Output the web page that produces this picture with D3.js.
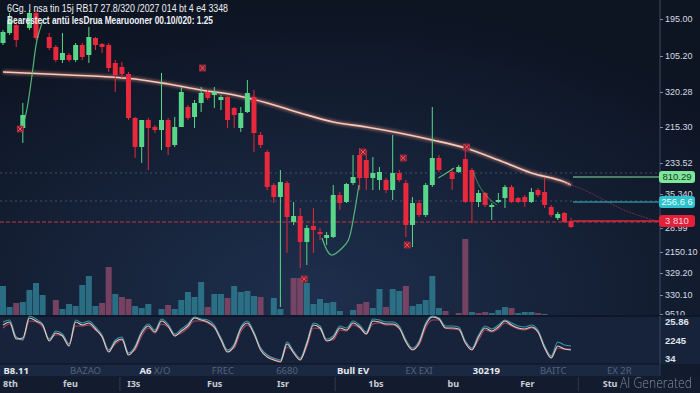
<!DOCTYPE html>
<html>
<head>
<meta charset="utf-8">
<script src="https://cdn.jsdelivr.net/npm/d3@7"></script>
<style>
  html, body { margin: 0; padding: 0; background: #0f1727; overflow: hidden; }
  svg { display: block; }
</style>
</head>
<body>
<script>
// ---- Data (prices on a 0-360 scale, one slot per session, null = no candle) ----
const open = [317,327,335,232,332,347,null,323,313,300,305,300,315,305,322,316,315,297,293,286,
  242,213,240,233,230,240,215,233,253,243,257,268,265,260,263,252,232,248,263,225,
  208,175,163,177,138,144,118,134,128,122,123,165,158,177,205,200,182,180,180,170,
  187,177,135,157,145,175,202,null,188,188,201,190,158,167,153,158,162,173,162,163,
  158,170,168,153,142,147,139];
const high = [330,347,338,257,350,350,null,327,315,327,307,317,317,333,323,317,317,300,298,288,
  243,240,242,235,287,242,243,273,255,260,273,270,273,265,264,253,253,280,270,228,
  210,177,190,179,158,152,135,152,132,128,175,168,177,205,212,210,203,193,182,225,
  190,180,163,160,177,253,205,null,192,195,215,192,170,168,157,167,175,175,163,165,
  172,172,182,155,148,148,142];
const low = [315,325,313,217,330,320,null,310,298,297,298,298,300,297,310,307,288,268,282,240,
  202,197,190,227,210,205,213,233,240,232,248,260,252,250,232,232,228,247,208,212,
  170,157,53,107,135,92,95,107,120,115,122,150,157,175,170,170,170,170,167,160,
  178,123,113,143,143,173,188,null,170,187,157,137,153,153,140,157,152,157,157,153,
  157,163,152,143,140,137,132];
const close = [328,340,320,245,347,322,null,312,300,307,300,315,303,323,315,313,292,285,286,242,
  213,240,232,230,240,213,233,268,242,257,267,262,268,263,240,245,247,267,227,215,
  173,163,178,143,144,118,132,130,126,125,165,157,176,183,182,182,187,188,170,187,
  180,135,157,145,175,202,190,null,181,193,158,158,167,155,155,160,173,158,158,158,
  168,165,155,145,146,138,133];

// volume per session and its side (1 = buying, -1 = selling)
const volume = [29,8,12,13,25,32,20,0,15,6,11,9,30,39,9,12,48,21,18,16,
  9,7,11,0,6,10,6,15,23,18,33,8,21,21,17,29,23,24,19,18,
  0,17,6,0,37,37,32,11,16,12,13,4,0,5,11,13,7,26,8,26,
  24,29,9,11,15,39,7,4,0,2,76,3,2,3,2,5,8,7,2,3,
  3,2,1,0,0,0,0];
const volSide = [1,1,-1,1,1,1,1,1,-1,1,1,1,1,1,1,-1,-1,1,-1,-1,
  1,1,1,1,1,-1,1,1,1,1,1,-1,1,1,-1,1,1,1,1,-1,
  1,1,1,1,-1,-1,1,1,1,1,1,1,1,1,-1,-1,1,1,-1,1,
  1,-1,1,1,1,1,1,-1,1,-1,-1,1,-1,-1,1,1,1,-1,1,1,
  1,-1,1,1,1,1,1];

// moving average
const maIdx = [0,5,10,15,20,25,30,35,40,45,50,55,60,65,70,75,80,85,86];
const maVal = [288,286.5,285,283.5,281,276,270,265,257,247,238,233,227,220,212,200,187,178,175];
// faint projected average
const projIdx = [84,88,91,94,97,99.5];
const projVal = [179,170,160,150,143,138];

// green trailing curves
const curveA = [[2.9,232],[3.6,250],[4.4,285],[5.15,320],[6.06,340]];
const curveB = [[48.3,122],[49.7,105],[51.5,113],[52.3,120],[53.2,147],[53.6,163],[53.9,175]];
const curveC = [[65.9,182],[67.4,188],[68.3,192]];
const curveD = [[71.2,188],[72.3,172],[73.8,160],[74.8,155]];

// signal markers
const markIdx = [2.6,30.2,45.6,60.6,61.2,54.5,70.2];
const markVal = [231,292,81,202,115,208,213];

// oscillator (three lines)
const oscMain = [39,42,25,26,46,43,39,23,31,28,18,42,39,41,35,27,12,22,25,9,
  16,31,38,32,43,38,28,33,38,46,44,42,37,24,12,18,35,41,30,14,
  7,4,2,20,11,4,20,39,36,23,26,36,34,41,37,30,43,42,40,40,
  36,22,14,21,39,47,45,36,36,35,21,14,27,36,33,37,43,39,36,35,
  37,32,16,6,18,15,14];
const oscFast = [42,44,27,24,48,45,40,25,33,30,20,44,41,43,37,29,14,24,27,11,
  18,33,40,34,45,40,30,35,40,47,45,44,39,26,14,20,37,43,32,16,
  9,6,4,22,13,6,22,41,38,25,28,38,36,43,39,32,45,44,42,42,
  38,24,16,23,41,48,46,38,38,37,23,16,29,38,35,39,44,41,38,37,
  39,34,18,8,22,19,18];
const oscSlow = [36,40,27,24,43,42,37,25,29,29,20,38,38,39,34,28,14,20,24,11,
  14,28,36,31,40,37,29,31,36,43,43,41,36,26,14,16,32,39,31,16,
  9,5,3,17,12,5,17,36,35,24,24,34,33,39,36,30,40,41,39,39,
  35,24,15,19,36,44,44,36,35,34,23,15,24,34,32,35,41,38,35,34,
  36,32,18,7,16,15,15];

// price axis ticks
const priceTicks = [341,304,268,233,197,166,132,108,87,65,46];
const priceLabels = ["195.00","105.20","320.28","215.30","233.52","35.340","28.99","2150.10","329.20","330.10","9510"];
const gridLevels = [187,159];
const supportLevel = 138;
const tagLevels = [183,158,139];
const tagLabels = ["810.29","256.6 6","3 810"];
const oscTicks = [42.3,23.3,5.7];
const oscLabels = ["25.86","2245","34"];

// time axis labels
const topIdx = [2,12.5,23,33.3,43,53,63,73.2,83.3,93.3];
const topLabels = [["B8.11",""],["","BAZAO"],["A6"," X/O"],["","FREC"],["","6680"],["Bull EV",""],["","EX EXI"],["30219",""],["","BAITC"],["","EX 2R"]];
const botIdx = [0,9.1,18.8,30.9,41.5,55.3,67.3,78.3,90.8];
const botLabels = ["8th","feu","I3s","Fus","Isr","1bs","bu","Fer","Stu"];
const sepIdx = [17.7,50.3,87.1];

const titleLines = ["6Gg. I nsa tin 15j RB17 27.8/320 /2027 014 bt  4 e4 3348",
  "Bearestect antü lesDrua Mearuooner  00.10/020: 1.25"];

// ---- Layout ----
const width = 700, height = 393;
const axisX = 660;
const font = "'Noto Sans', 'DejaVu Sans', sans-serif";
const axisFont = "'Liberation Sans', Arial, sans-serif";

const svg = d3.select("body").append("svg")
  .attr("width", width).attr("height", height);

const defs = svg.append("defs");
const bg = defs.append("radialGradient").attr("id", "bg")
  .attr("cx", "45%").attr("cy", "75%").attr("r", "75%");
bg.append("stop").attr("offset", "0%").attr("stop-color", "#1e2f4d");
bg.append("stop").attr("offset", "100%").attr("stop-color", "#0d1422");
defs.append("filter").attr("id", "glow")
  .append("feGaussianBlur").attr("stdDeviation", 1.5);

svg.append("rect").attr("width", width).attr("height", height).attr("fill", "url(#bg)");

// Scales
const xScale = d3.scaleLinear().domain([0, 86]).range([3, 571]);
const yScale = d3.scaleLinear().domain([0, 360]).range([360, 0]);
const volScale = d3.scaleLinear().domain([0, 100]).range([315, 215]);
const oscScale = d3.scaleLinear().domain([0, 48]).range([364, 316]);

// Grid and support lines
svg.selectAll(".grid").data(gridLevels).enter().append("line")
  .attr("x1", 0).attr("x2", axisX)
  .attr("y1", d => yScale(d)).attr("y2", d => yScale(d))
  .attr("stroke", "#4d5b7a").attr("stroke-dasharray", "2,3").attr("stroke-opacity", 0.8);

svg.append("line")
  .attr("x1", 0).attr("x2", axisX)
  .attr("y1", yScale(supportLevel)).attr("y2", yScale(supportLevel))
  .attr("stroke", "#8a2f3e").attr("stroke-width", 1.5).attr("stroke-dasharray", "4,2");

// Volume bars
const step = xScale(1) - xScale(0);
svg.append("g").selectAll("rect").data(volume).enter().append("rect")
  .attr("x", (d, i) => xScale(i) - step / 2 + 0.3)
  .attr("width", step - 0.6)
  .attr("y", d => volScale(d))
  .attr("height", d => volScale(0) - volScale(d))
  .attr("fill", (d, i) => volSide[i] > 0 ? "#2f7b90" : "#864868")
  .attr("opacity", 0.85);

// Moving average with glow
const maLine = d3.line().x(d => xScale(d[0])).y(d => yScale(d[1])).curve(d3.curveMonotoneX);
const maData = maIdx.map((d, i) => [d, maVal[i]]);
svg.append("path").datum(maData).attr("d", maLine)
  .attr("fill", "none").attr("stroke", "#ff9d8c").attr("stroke-width", 4)
  .attr("opacity", 0.45).attr("filter", "url(#glow)");
svg.append("path").datum(maData).attr("d", maLine)
  .attr("fill", "none").attr("stroke", "#f8cbb8").attr("stroke-width", 1.6);

svg.append("path").datum(projIdx.map((d, i) => [d, projVal[i]])).attr("d", maLine)
  .attr("fill", "none").attr("stroke", "#9a3444").attr("stroke-width", 1)
  .attr("stroke-dasharray", "2,1").attr("opacity", 0.7);

// Candles
const candles = d3.range(open.length).filter(i => open[i] !== null)
  .map(i => ({ i, o: open[i], h: high[i], l: low[i], c: close[i] }));
const up = "#58d68a", down = "#e8283c";

svg.append("g").selectAll("line").data(candles).enter().append("line")
  .attr("x1", d => xScale(d.i)).attr("x2", d => xScale(d.i))
  .attr("y1", d => yScale(d.h)).attr("y2", d => yScale(d.l))
  .attr("stroke", d => d.c >= d.o ? up : down).attr("stroke-width", 1);

svg.append("g").selectAll("rect").data(candles).enter().append("rect")
  .attr("x", d => xScale(d.i) - 2.5).attr("width", 5)
  .attr("y", d => yScale(Math.max(d.o, d.c)))
  .attr("height", d => Math.max(1.5, Math.abs(yScale(d.o) - yScale(d.c))))
  .attr("fill", d => d.c >= d.o ? up : down);

// Trailing curves
const curveLine = d3.line().x(d => xScale(d[0])).y(d => yScale(d[1])).curve(d3.curveCatmullRom);
[curveA, curveB, curveC, curveD].forEach((c, k) => {
  svg.append("path").datum(c).attr("d", curveLine)
    .attr("fill", "none").attr("stroke", "#5cc77e")
    .attr("stroke-width", 1.2).attr("opacity", k === 3 ? 0.45 : 0.9);
});

// Signal markers
const marks = svg.append("g").selectAll("g").data(markIdx).enter().append("g")
  .attr("transform", (d, i) => `translate(${xScale(d)},${yScale(markVal[i])})`);
marks.append("rect").attr("x", -3).attr("y", -3).attr("width", 6).attr("height", 6)
  .attr("fill", "#7a1f2c").attr("stroke", "#d8334a").attr("stroke-width", 0.6);
marks.append("path").attr("d", "M-2.2,-2.2L2.2,2.2M2.2,-2.2L-2.2,2.2")
  .attr("stroke", "#ff5a6a").attr("stroke-width", 1);

// Price level lines toward the tags
const tagColors = ["#86e39c", "#34bcc6", "#d8283c"];
svg.selectAll(".lvl").data(tagLevels).enter().append("line")
  .attr("x1", xScale.range()[1] + 2).attr("x2", axisX)
  .attr("y1", d => yScale(d)).attr("y2", d => yScale(d))
  .attr("stroke", (d, i) => tagColors[i]).attr("stroke-width", (d, i) => i === 2 ? 1.6 : 1.2);

// Price axis
svg.append("line").attr("x1", axisX).attr("x2", axisX).attr("y1", 0).attr("y2", 364)
  .attr("stroke", "#3c4a66").attr("stroke-width", 1);

const priceAxis = svg.append("g")
  .attr("transform", `translate(${axisX},0)`)
  .call(d3.axisRight(yScale).tickValues(priceTicks)
    .tickFormat((d, i) => priceLabels[i]).tickSize(3).tickPadding(2));
priceAxis.select(".domain").remove();
priceAxis.selectAll("line").attr("stroke", "#7d8799");
priceAxis.selectAll("text").attr("fill", "#d6dbe4")
  .style("font-family", axisFont).style("font-size", "9px");

// Tags
const tags = svg.append("g").selectAll("g").data(tagLevels).enter().append("g")
  .attr("transform", d => `translate(${axisX - 1},${yScale(d)})`);
tags.append("rect").attr("x", 0).attr("y", -6).attr("width", 36).attr("height", 12).attr("rx", 3)
  .attr("fill", (d, i) => ["#7ee59a", "#2ec2cc", "#e3203a"][i]);
tags.append("text").attr("x", 18).attr("y", 3.3).attr("text-anchor", "middle")
  .text((d, i) => tagLabels[i])
  .attr("fill", (d, i) => ["#123d24", "#eafcff", "#ffd4da"][i])
  .style("font-family", axisFont).style("font-size", "9.5px");

// Oscillator panel
svg.append("rect").attr("x", 0).attr("y", 316).attr("width", width).attr("height", 48)
  .attr("fill", "#17233b");
svg.append("line").attr("x1", 0).attr("x2", width).attr("y1", 316).attr("y2", 316)
  .attr("stroke", "#0d1524").attr("stroke-width", 1.5);
svg.append("line").attr("x1", axisX).attr("x2", axisX).attr("y1", 316).attr("y2", 364)
  .attr("stroke", "#3c4a66");

const oscLine = d3.line().x((d, i) => xScale(i)).y(d => oscScale(d)).curve(d3.curveMonotoneX);
[[oscSlow, "#c4506a", 0.8], [oscFast, "#3fa9be", 0.85], [oscMain, "#f2d2c2", 0.95]].forEach(s => {
  svg.append("path").datum(s[0]).attr("d", oscLine)
    .attr("fill", "none").attr("stroke", s[1]).attr("stroke-width", 1.1).attr("opacity", s[2]);
});

const oscAxis = svg.append("g")
  .attr("transform", `translate(${axisX},0)`)
  .call(d3.axisRight(oscScale).tickValues(oscTicks)
    .tickFormat((d, i) => oscLabels[i]).tickSize(0).tickPadding(5));
oscAxis.select(".domain").remove();
oscAxis.selectAll("text").attr("fill", "#dfe3ea")
  .style("font-family", axisFont).style("font-size", "9.5px").style("font-weight", "bold");

// Time axis rows
svg.append("rect").attr("x", 0).attr("y", 364).attr("width", axisX).attr("height", 12)
  .attr("fill", "#1b2842");
svg.append("rect").attr("x", 0).attr("y", 376).attr("width", width).attr("height", 17)
  .attr("fill", "#131c2f");
svg.append("line").attr("x1", 0).attr("x2", axisX).attr("y1", 364).attr("y2", 364)
  .attr("stroke", "#0c1320");
svg.append("line").attr("x1", axisX).attr("x2", axisX).attr("y1", 364).attr("y2", 376)
  .attr("stroke", "#2a3852");

const topText = svg.append("g").selectAll("text").data(topIdx).enter().append("text")
  .attr("x", d => xScale(d)).attr("y", 373.5).attr("text-anchor", "middle")
  .style("font-family", font).style("font-size", "9.5px");
topText.append("tspan").text((d, i) => topLabels[i][0])
  .attr("fill", "#e6e9ef").style("font-weight", "bold");
topText.append("tspan").text((d, i) => topLabels[i][1])
  .attr("fill", "#55627a");

svg.append("g").selectAll("text").data(botIdx).enter().append("text")
  .attr("x", d => xScale(d)).attr("y", 387)
  .text((d, i) => botLabels[i])
  .attr("fill", "#c9ced8")
  .style("font-family", font).style("font-size", "9px").style("font-weight", "bold");

svg.append("g").selectAll("line").data(sepIdx).enter().append("line")
  .attr("x1", d => xScale(d)).attr("x2", d => xScale(d))
  .attr("y1", 377).attr("y2", 391)
  .attr("stroke", "#2c3a55");

// Title
svg.selectAll(".title").data(titleLines).enter().append("text")
  .attr("x", 7).attr("y", (d, i) => 12 + i * 11.5)
  .attr("textLength", (d, i) => i === 0 ? 221 : 206)
  .attr("lengthAdjust", "spacingAndGlyphs")
  .text(d => d)
  .attr("fill", "#eef1f5")
  .style("font-family", axisFont)
  .style("font-size", "10px")
  .style("font-weight", (d, i) => i === 1 ? "bold" : "normal");

// Watermark
svg.append("text").attr("x", 620).attr("y", 388)
  .attr("textLength", 72).attr("lengthAdjust", "spacingAndGlyphs")
  .text("AI Generated")
  .attr("fill", "#a3abb9").attr("opacity", 0.75)
  .style("font-family", "'Open Sans', sans-serif").style("font-size", "14px").style("font-weight", 300);
</script>
</body>
</html>
